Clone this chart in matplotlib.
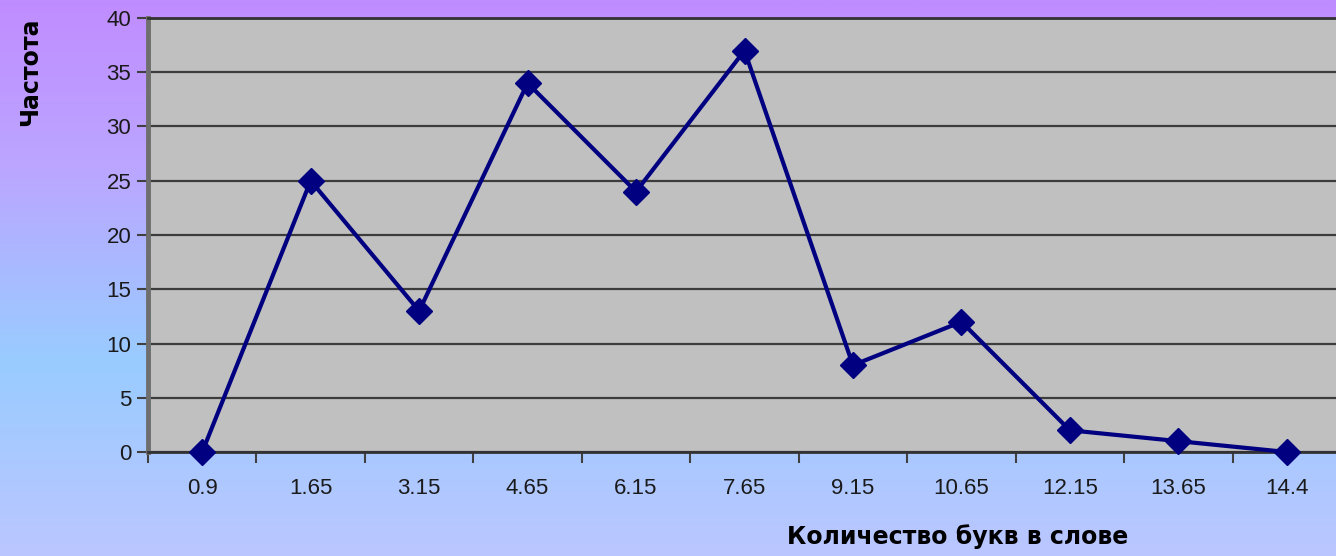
import numpy as np
import matplotlib.pyplot as plt
from matplotlib.colors import LinearSegmentedColormap

# Интервалы длины слова и частоты
labels = ['0.9', '1.65', '3.15', '4.65', '6.15', '7.65', '9.15', '10.65', '12.15', '13.65', '14.4']
freq = [0, 25, 13, 34, 24, 37, 8, 12, 2, 1, 0]

fig = plt.figure(figsize=(13.36, 5.56), dpi=100)

# Фон слайда: градиент сверху вниз
bg = fig.add_axes([0, 0, 1, 1], zorder=-10)
grad = LinearSegmentedColormap.from_list(
    'bg', [(0.0, '#c08cff'), (0.3, '#bba6ff'), (0.65, '#99ccff'), (1.0, '#bbc6ff')])
bg.imshow(np.linspace(0, 1, 256).reshape(-1, 1), aspect='auto', cmap=grad,
          extent=[0, 1, 0, 1], origin='upper')
bg.set_axis_off()

ax = fig.add_axes([148 / 1336, 104 / 556, 1193 / 1336, 434 / 556])
ax.set_facecolor('#c0c0c0')

x = np.arange(len(labels))
ax.plot(x, freq, color='#000080', lw=3, marker='D', markersize=13,
        markerfacecolor='#000080', markeredgecolor='#000080', zorder=3, clip_on=False)

ax.set_xlim(-0.5, len(labels) - 0.5)
ax.set_ylim(0, 40)
ax.set_yticks(range(0, 41, 5))
ax.yaxis.grid(True, color='#3c3c3c', lw=1.6)
ax.set_axisbelow(True)

ax.set_xticks(x)
ax.set_xticklabels(labels)
ax.set_xticks(np.arange(-0.5, len(labels)), minor=True)
ax.tick_params(axis='x', which='major', length=0, pad=19)
ax.tick_params(axis='x', which='minor', length=8, width=1.5, color='#404040', direction='out')
ax.tick_params(axis='y', length=8, width=1.5, color='#404040', pad=4)
ax.tick_params(axis='both', which='major', labelsize=16, labelcolor='#1a1a1a',
               labelfontfamily='Liberation Sans')

ax.spines['right'].set_visible(False)
ax.spines['top'].set_color('#333333')
ax.spines['top'].set_linewidth(2)
ax.spines['bottom'].set_color('#333333')
ax.spines['bottom'].set_linewidth(2)
ax.spines['left'].set_color('#6e6e6e')
ax.spines['left'].set_linewidth(3.5)

fig.text(30 / 1336, 1 - 72 / 556, 'Частота', rotation=90, ha='center', va='center',
         fontsize=17, fontweight='bold', color='black')
fig.text(958 / 1336, 1 - 537 / 556, 'Количество букв в слове', ha='center', va='center',
         fontsize=17, fontweight='bold', color='black')

fig.savefig('out.png', dpi=100)
